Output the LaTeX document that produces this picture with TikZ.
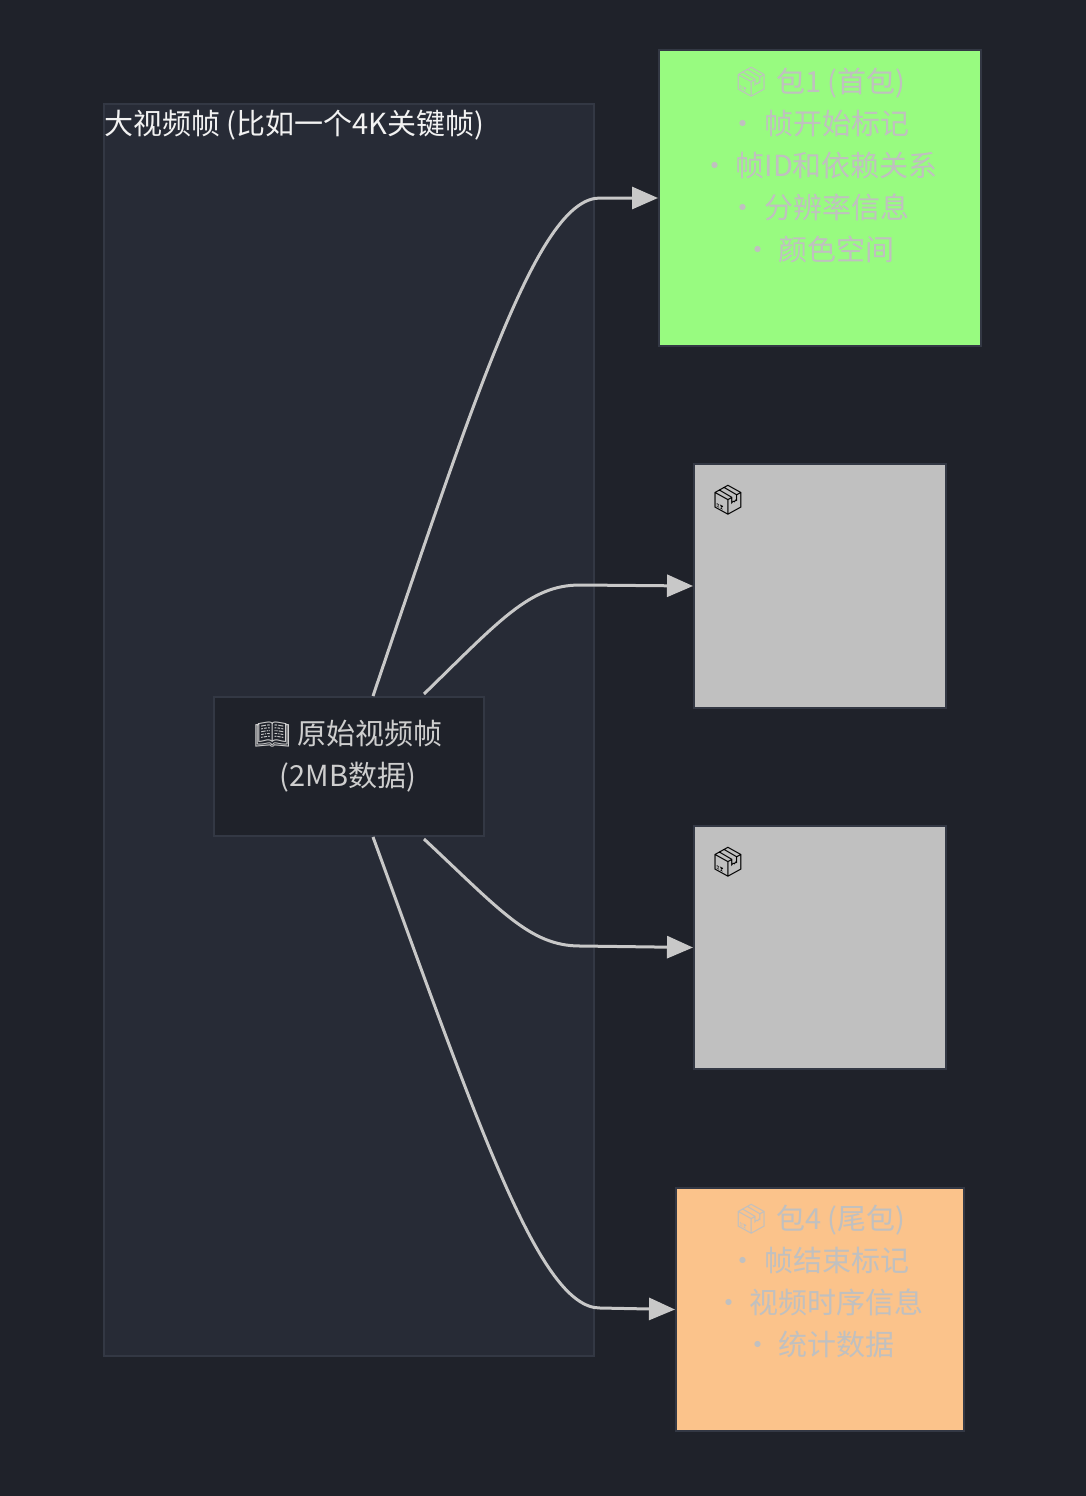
\documentclass[tikz,border=0pt]{standalone}
\usepackage{fontspec}
\setmainfont{Noto Sans CJK SC}
\newfontfamily\emo{Noto Emoji}
\usetikzlibrary{arrows.meta,calc}
\definecolor{bg}{HTML}{1F222A}
\definecolor{clus}{HTML}{272B36}
\definecolor{bord}{HTML}{333844}
\definecolor{txt}{HTML}{C0C0C0}
\definecolor{edge}{HTML}{C8C8C8}
\definecolor{grn}{HTML}{98FB80}
\definecolor{org}{HTML}{FBC38B}
\begin{document}
\begin{tikzpicture}[x=1pt,y=-1pt,
  box/.style={draw=bord,line width=2pt,inner sep=0pt},
  lbl/.style={text=txt,font=\fontsize{29}{42}\selectfont,align=center,anchor=north},
  conn/.style={draw=edge,line width=3pt,-{Triangle[length=26pt,width=22pt]}}]
\fill[bg] (0,0) rectangle (1086,1496);
\useasboundingbox (0,0) rectangle (1086,1496);
\node[box,fill=clus,minimum width=490pt,minimum height=1252pt,anchor=north west] (cl) at (103,103) {};
\node[anchor=west,text=white!90!gray,font=\fontsize{29}{36}\selectfont,inner sep=0pt] (clt) at (104,125) {大视频帧 (比如一个4K关键帧)};
\node[box,fill=bg,minimum width=270pt,minimum height=139pt,anchor=north west] (a) at (213,696) {};
\node[text=edge!90!white,font=\fontsize{29}{42}\selectfont,align=center] (at) at (348,756) {{\emo 📖} 原始视频帧\\(2MB数据)};
\node[box,fill=grn,minimum width=322pt,minimum height=296pt,anchor=north west] (p1) at (658,49) {};
\node[lbl] (p1t) at (819,64) {{\emo 📦} 包1 (首包)\\• 帧开始标记\\• 帧ID和依赖关系\\• 分辨率信息\\• 颜色空间};
\node[box,fill=txt,minimum width=252pt,minimum height=244pt,anchor=north west] (p2) at (693,463) {};
\node[font=\fontsize{29}{36}\selectfont] (p2t) at (728,500) {\emo 📦};
\node[box,fill=txt,minimum width=252pt,minimum height=243pt,anchor=north west] (p3) at (693,825) {};
\node[font=\fontsize{29}{36}\selectfont] (p3t) at (728,862) {\emo 📦};
\node[box,fill=org,minimum width=288pt,minimum height=243pt,anchor=north west] (p4) at (675,1187) {};
\node[lbl] (p4t) at (819,1201) {{\emo 📦} 包4 (尾包)\\• 帧结束标记\\• 视频时序信息\\• 统计数据};
\draw[conn] ($(a.north)+(24,0)$) .. controls (480,380) and (540,198) .. (600,198) -- (p1.west);
\draw[conn] ($(a.north)+(75,-2)$) .. controls (500,620) and (530,585) .. (580,585) -- (p2.west);
\draw[conn] ($(a.south)+(75,2)$) .. controls (500,910) and (530,946) .. (580,946) -- (p3.west);
\draw[conn] ($(a.south)+(24,0)$) .. controls (480,1130) and (540,1308) .. (600,1308) -- (p4.west);
\end{tikzpicture}
\end{document}
